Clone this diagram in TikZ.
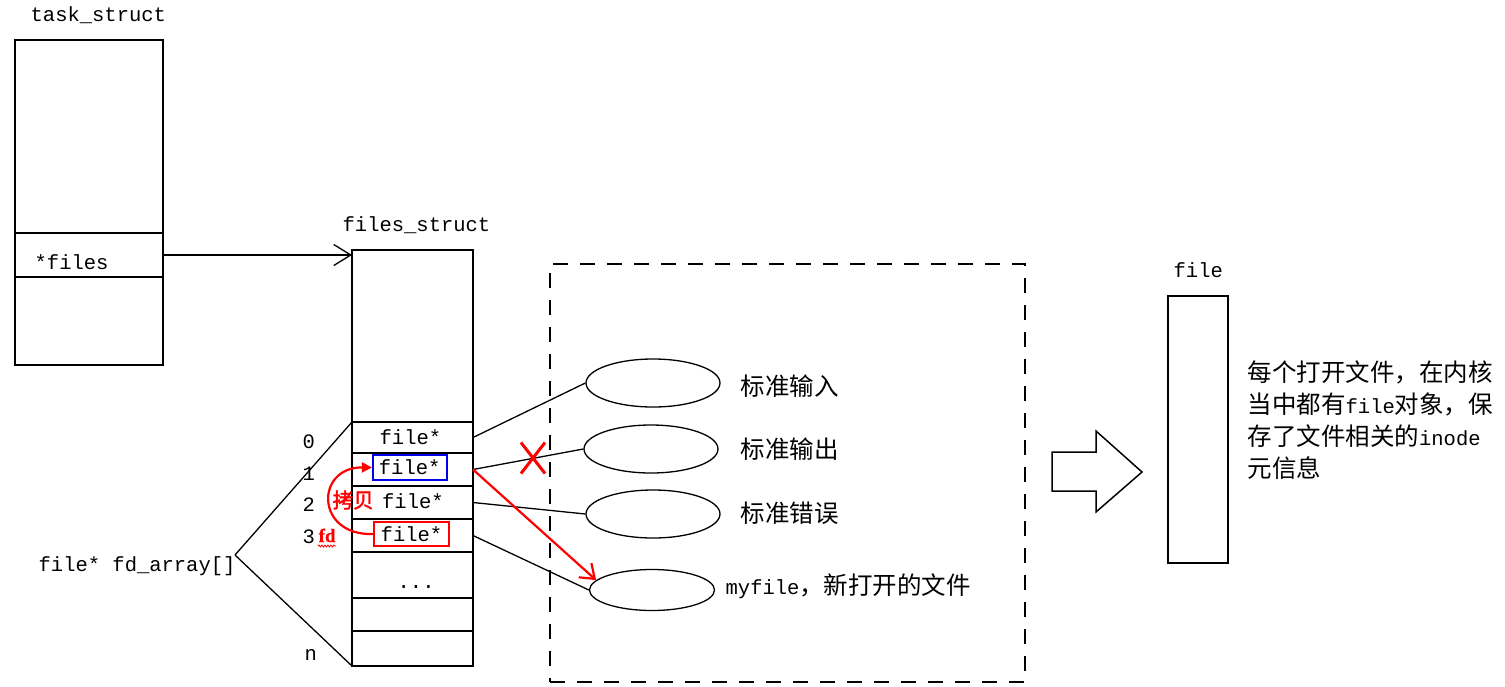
\documentclass[tikz,border=0pt]{standalone}
\usepackage{fontspec}
\setmainfont{Liberation Mono}
\newfontfamily\cjk[Scale=1.195]{Noto Sans CJK SC}
\newfontfamily\cjkbold[FakeBold=2]{Noto Sans CJK SC}
\newfontfamily\serifbold[FakeBold=0.5]{Liberation Serif Bold}
\usetikzlibrary{arrows.meta,shapes.misc,shapes.geometric,decorations.pathmorphing}
\definecolor{myred}{RGB}{255,0,0}
\definecolor{myblue}{RGB}{0,0,235}
\begin{document}
\begin{tikzpicture}[x=1pt,y=-1pt,line width=1.3pt,
  font=\fontsize{20.5}{24}\selectfont,
  box/.style={draw,rectangle,inner sep=0pt,outer sep=0pt,anchor=north west},
  cellbox/.style={box,minimum width=121pt},
  txt/.style={inner sep=0pt,anchor=base west},
  lbl/.style={inner sep=0pt,anchor=west},
  ell/.style={draw,ellipse,inner sep=0pt,minimum width=134pt,minimum height=48pt},
  redarrow/.style={draw=myred,line width=2.2pt},
]
\useasboundingbox (0,0) rectangle (1505,686);

% task_struct
\node[txt] (tslabel) at (30,21) {task\_struct};
\node[box,minimum width=148pt,minimum height=193pt] (tstop) at (15,40) {};
\node[box,minimum width=148pt,minimum height=44pt] (tsfiles) at (15,233) {};
\node[box,minimum width=148pt,minimum height=88pt] (tsbot) at (15,277) {};
\node[txt] (filestxt) at (34,269) {*files};

% files_struct
\node[txt] (fslabel) at (342,231.5) {files\_struct};
\node[cellbox,minimum height=172pt] (fstop) at (352,250) {};
\node[cellbox,minimum height=31pt] (c0) at (352,422) {};
\node[cellbox,minimum height=33pt] (c1) at (352,453) {};
\node[cellbox,minimum height=33pt] (c2) at (352,486) {};
\node[cellbox,minimum height=33pt] (c3) at (352,519) {};
\node[cellbox,minimum height=46pt] (cd) at (352,552) {};
\node[cellbox,minimum height=33pt] (c5) at (352,598) {};
\node[cellbox,minimum height=35pt] (cn) at (352,631) {};

\node[txt] (t0) at (379,444) {file*};
\node[draw=myblue,line width=1.6pt,inner sep=0pt,minimum width=74pt,minimum height=25pt] (b1) at (409.7,467.5) {file*};
\node[txt] (t2) at (381.5,508) {file*};
\node[draw=myred,line width=1.6pt,inner sep=0pt,minimum width=75pt,minimum height=24pt] (r3) at (411.5,534) {file*};
\node[txt] (tdots) at (397,588) {...};

% indices
\node[txt] (i0) at (302,448) {0};
\node[txt] (i1) at (302,480.5) {1};
\node[txt] (i2) at (302,511.5) {2};
\node[txt] (i3) at (302,543) {3};
\node[txt] (in) at (304,660) {n};
\node[txt,text=myred,font=\fontsize{19}{22}\serifbold] (fd) at (318,542) {fd};
\draw[myred,line width=0.8pt,decorate,decoration={snake,amplitude=1pt,segment length=3pt}]
  ([yshift=-4pt]fd.base west) -- ([yshift=-4pt]fd.base east);
\node[lbl,text=myred,font=\fontsize{20.5}{24}\cjkbold] (copy) at (332,500) {拷贝};
\draw[redarrow,-{Triangle[length=10pt,width=10pt]}]
  (r3.west) .. controls (315,536) and (315,467) .. (b1.west);

% fd_array
\node[txt] (fdarr) at (38,571.5) {file* fd\_array[]};
\coordinate (v) at (235,555);
\draw (v) -- (c0.north west);
\draw (v) -- (cn.south west);

% task_struct -> files_struct
\draw[-{Straight Barb[length=17pt,width=21pt]}] (tsfiles.east) -- (tsfiles.east -| fstop.west);

% dashed group
\node[box,dashed,dash pattern=on 15pt off 12pt,line width=1.8pt,minimum width=475pt,minimum height=418pt] (grp) at (550,264) {};

% ellipses
\node[ell] (e1) at (653,383) {};
\node[ell] (e2) at (651,449) {};
\node[ell] (e3) at (653,514) {};
\node[ell,minimum width=125pt,minimum height=41pt] (e4) at (652,590) {};
\node[lbl] (l1) at (740,386) {\cjk 标准输入};
\node[lbl] (l2) at (740,449) {\cjk 标准输出};
\node[lbl] (l3) at (740,513) {\cjk 标准错误};
\node[lbl] (l4) at (725,586) {myfile{\cjk ，新打开的文件}};

\draw (c0.east) -- (e1.west);
\draw (c1.east) -- (e2.west);
\draw (c2.east) -- (e3.west);
\draw (c3.east) -- (e4.west);

\node[cross out,draw=myred,line width=3pt,inner sep=0pt,minimum width=21pt,minimum height=28pt] (xmark) at (533,458) {};
\draw[redarrow,-{Straight Barb[length=13pt,width=19pt]}] (c1.east) -- (e4.170);

% block arrow
\draw[line width=1.5pt] (1052,452) -- (1096,452) -- (1096,431) -- (1142,472)
  -- (1096,512) -- (1096,491) -- (1052,491) -- cycle;

% file
\node[txt] (filelabel) at (1173,277) {file};
\node[box,minimum width=60pt,minimum height=267pt] (filebox) at (1168,296) {};
\node[anchor=base west,align=left,inner sep=0pt,font=\fontsize{20.5}{32}\cjk] (desc) at (1247,477)
  {每个打开文件，在内核\\当中都有{\rmfamily file}对象，保\\存了文件相关的{\rmfamily inode}\\元信息};
\end{tikzpicture}
\end{document}
